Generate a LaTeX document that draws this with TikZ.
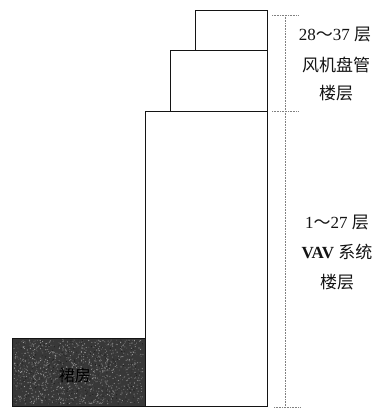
\documentclass[tikz,border=0pt]{standalone}
\usepackage{fontspec}
\setmainfont{Liberation Serif}
\newfontfamily\cjk{Noto Sans CJK SC}
\definecolor{podium}{HTML}{383838}
\definecolor{ink}{HTML}{141414}
\tikzset{
  floorbox/.style={draw=ink,line width=1.1pt,fill=white},
  dimline/.style={draw=black!50,line width=0.6pt,densely dotted},
  lbl/.style={font=\fontsize{17}{17}\selectfont,text=ink,inner sep=0pt,anchor=center}
}
\begin{document}
\begin{tikzpicture}[x=1pt,y=-1pt]
\useasboundingbox (0,0) rectangle (381,408);
\fill[white] (0,0) rectangle (381,408);
% podium
\node[draw=ink,line width=1.1pt,fill=podium,minimum width=133pt,minimum height=68pt,inner sep=0pt,anchor=north west] (podium) at (12,338) {};
\pgfmathsetseed{7}
\foreach \i in {1,...,1800}{
  \pgfmathsetmacro{\px}{14+129*rnd}
  \pgfmathsetmacro{\py}{340+64*rnd}
  \pgfmathsetmacro{\pv}{int(10+55*rnd)}
  \fill[white!\pv!black] (\px,\py) circle (0.6pt);
}
\node[font=\fontsize{16}{16}\selectfont\cjk,text=black,inner sep=0pt] (podlabel) at (75,375) {裙房};
% tower
\node[floorbox,minimum width=122pt,minimum height=295pt,inner sep=0pt,anchor=north west] (main) at (145,111) {};
\node[floorbox,minimum width=97pt,minimum height=61pt,inner sep=0pt,anchor=north west] (mid) at (170,50) {};
\node[floorbox,minimum width=72pt,minimum height=40pt,inner sep=0pt,anchor=north west] (top) at (195,10) {};
% dimension lines
\coordinate (a1) at (272,15);
\coordinate (a2) at (299,15);
\coordinate (b1) at (272,111);
\coordinate (b2) at (299,111);
\coordinate (c1) at (274,407);
\coordinate (c2) at (300,407);
\coordinate (v1) at (285,15);
\coordinate (v2) at (285,407);
\draw[dimline] (a1) -- (a2);
\draw[dimline] (b1) -- (b2);
\draw[dimline] (c1) -- (c2);
\draw[dimline] (v1) -- (v2);
% labels
\node[lbl] (t1) at (335,35) {28\raisebox{0.1ex}{\cjk～}37 {\cjk 层}};
\node[lbl] (t2) at (336,65) {\cjk 风机盘管};
\node[lbl] (t3) at (336,93) {\cjk 楼层};
\node[lbl] (t4) at (337,223) {1\raisebox{0.1ex}{\cjk～}27 {\cjk 层}};
\node[lbl] (t5) at (337,252) {\textbf{VAV} {\cjk 系统}};
\node[lbl] (t6) at (337,282) {\cjk 楼层};
\end{tikzpicture}
\end{document}
